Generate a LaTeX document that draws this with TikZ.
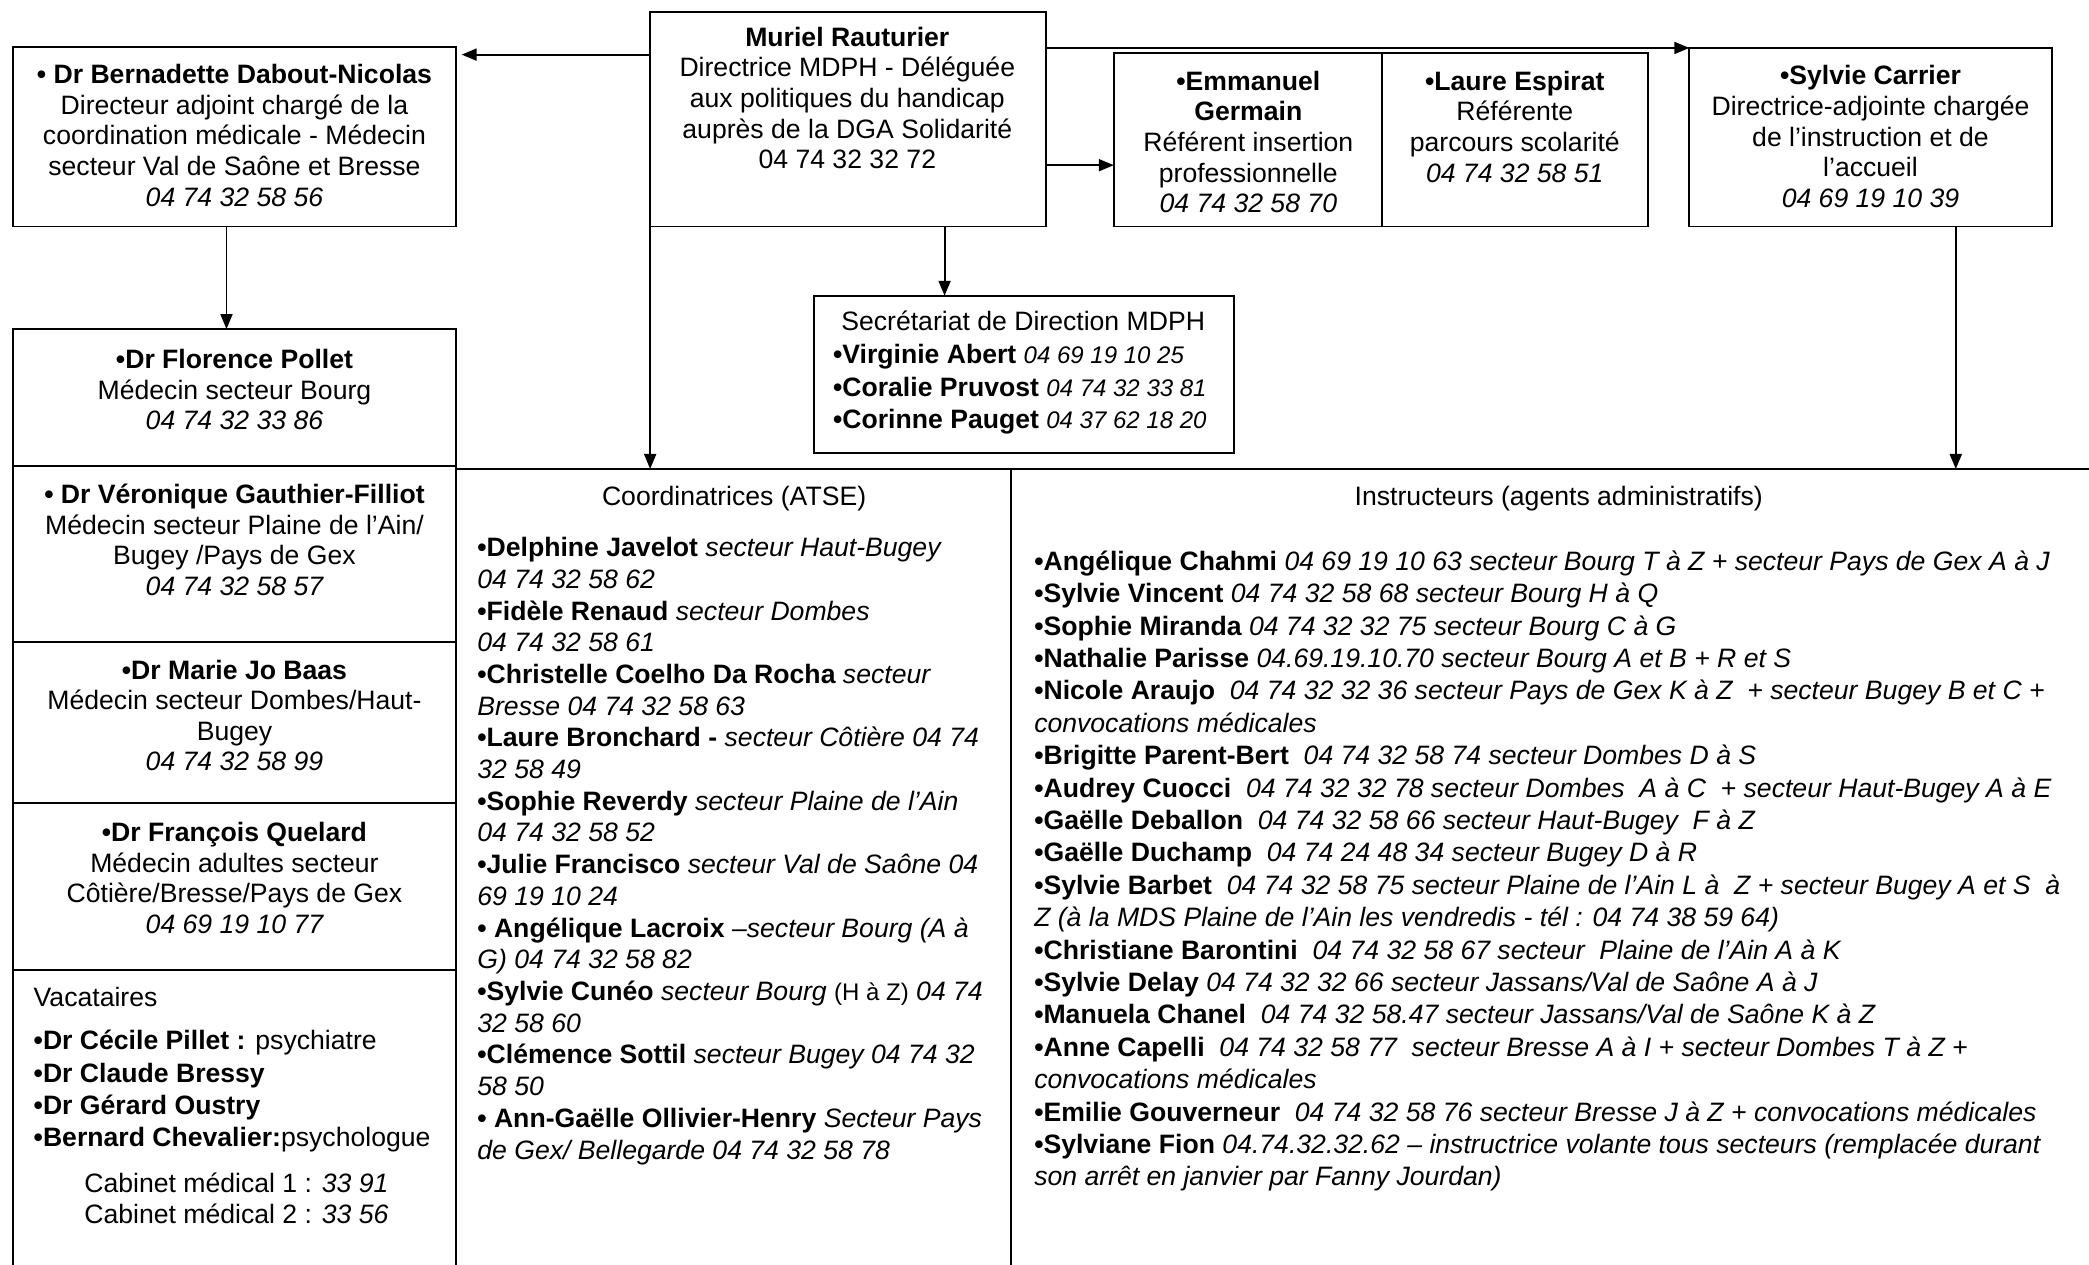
\documentclass[tikz,border=0pt]{standalone}
\usepackage{fontspec}
\setmainfont{Liberation Sans}
\usetikzlibrary{arrows.meta,calc}
\newcommand\fsA{\fontsize{13.3}{15.3}\selectfont}
\newcommand\fsCo{\fontsize{13.3}{15.85}\selectfont}
\newcommand\fsIn{\fontsize{13.3}{16.2}\selectfont}
\newcommand\fsSe{\fontsize{13.3}{16.3}\selectfont}
\newcommand\smph{\fontsize{12}{14}\selectfont}
\newcommand\mkbox[5]{\node[bx, anchor=north west, minimum width={(#4-#2)*0.666pt}, minimum height={(#5-#3)*0.666pt}] (#1) at (#2,#3) {};}
\tikzset{
 bx/.style={draw, line width=0.95pt, inner sep=0pt, outer sep=0pt},
 ctext/.style={inner sep=0pt, align=center, font=\fsA, anchor=north},
 ltext/.style={inner sep=0pt, align=left, font=\fsA, anchor=north west},
 arr/.style={line width=0.95pt, -{Triangle[length=7.5pt,width=6pt]}},
}
\begin{document}
\begin{tikzpicture}[x=0.666pt,y=-0.666pt]
\useasboundingbox (0,0) rectangle (1568,949);
\clip (0,0) rectangle (1568,949);
% boxes
\mkbox{dabout}{10}{35}{342}{170}
\mkbox{muriel}{488}{9}{785}{170}
\mkbox{emm}{836}{40}{1037}{170}
\mkbox{laure}{1037}{40}{1237}{170}
\mkbox{carrier}{1268}{36}{1540}{170}
\mkbox{secr}{611}{222}{926}{340}
\mkbox{pollet}{10}{247}{342}{350}
\mkbox{gauth}{10}{350}{342}{482}
\mkbox{baas}{10}{482}{342}{603}
\mkbox{quel}{10}{603}{342}{728}
\mkbox{vac}{10}{728}{342}{975}
\mkbox{coord}{342}{352}{759}{975}
\mkbox{instr}{759}{352}{1600}{975}
\draw[line width=1.3pt] (coord.north west) -- (instr.north east);
% texts
\node[ctext] (tdabout) at (176,48) {{\bfseries • Dr Bernadette Dabout-Nicolas}\\Directeur adjoint chargé de la\\coordination médicale - Médecin\\secteur Val de Saône et Bresse\\{\itshape 04 74 32 58 56}};
\node[ctext] (tmuriel) at (636,20) {{\bfseries Muriel Rauturier}\\Directrice MDPH - Déléguée\\aux politiques du handicap\\auprès de la DGA Solidarité\\04 74 32 32 72};
\node[ctext] (temm) at (937,53) {{\bfseries •Emmanuel}\\{\bfseries Germain}\\Référent insertion\\professionnelle\\{\itshape 04 74 32 58 70}};
\node[ctext] (tlaure) at (1137,53) {{\bfseries •Laure Espirat}\\Référente\\parcours scolarité\\{\itshape 04 74 32 58 51}};
\node[ctext] (tcarrier) at (1404,49) {{\bfseries •Sylvie Carrier}\\Directrice-adjointe chargée\\de l’instruction et de\\l’accueil\\{\itshape 04 69 19 10 39}};
\node[ctext] (tsecr) at (768,233) {Secrétariat de Direction MDPH};
\node[ltext, font=\fsSe] (tsecrl) at (625,258) {{\bfseries •Virginie Abert} {\smph\itshape 04 69 19 10 25}\\{\bfseries •Coralie Pruvost} {\smph\itshape 04 74 32 33 81}\\{\bfseries •Corinne Pauget} {\smph\itshape 04 37 62 18 20}};
\node[ctext] (tpollet) at (176,262) {{\bfseries •Dr Florence Pollet}\\Médecin secteur Bourg\\{\itshape 04 74 32 33 86}};
\node[ctext] (tgauth) at (176,363) {{\bfseries • Dr Véronique Gauthier-Filliot}\\Médecin secteur Plaine de l’Ain/\\Bugey /Pays de Gex\\{\itshape 04 74 32 58 57}};
\node[ctext] (tbaas) at (176,495) {{\bfseries •Dr Marie Jo Baas}\\Médecin secteur Dombes/Haut-\\Bugey\\{\itshape 04 74 32 58 99}};
\node[ctext] (tquel) at (176,617) {{\bfseries •Dr François Quelard}\\Médecin adultes secteur\\Côtière/Bresse/Pays de Gex\\{\itshape 04 69 19 10 77}};
\node[ltext] (tvac) at (25,741) {Vacataires};
\node[ltext, font=\fsIn] (tvacl) at (25,773) {{\bfseries •Dr Cécile Pillet :} psychiatre\\{\bfseries •Dr Claude Bressy}\\{\bfseries •Dr Gérard Oustry}\\{\bfseries •Bernard Chevalier:}psychologue};
\node[ltext] (tcab) at (63,880) {Cabinet médical 1 : {\itshape 33 91}\\Cabinet médical 2 : {\itshape 33 56}};
\node[ctext] (tcoord) at (551,365) {Coordinatrices (ATSE)};
\node[ltext, font=\fsCo] (tcoordl) at (358,403) {%
{\bfseries •Delphine Javelot} {\itshape secteur Haut-Bugey}\\
{\itshape 04 74 32 58 62}\\
{\bfseries •Fidèle Renaud} {\itshape secteur Dombes}\\
{\itshape 04 74 32 58 61}\\
{\bfseries •Christelle Coelho Da Rocha} {\itshape secteur}\\
{\itshape Bresse 04 74 32 58 63}\\
{\bfseries •Laure Bronchard -} {\itshape secteur Côtière 04 74}\\
{\itshape 32 58 49}\\
{\bfseries •Sophie Reverdy} {\itshape secteur Plaine de l’Ain}\\
{\itshape 04 74 32 58 52}\\
{\bfseries •Julie Francisco} {\itshape secteur Val de Saône 04}\\
{\itshape 69 19 10 24}\\
{\bfseries • Angélique Lacroix} {\itshape –secteur Bourg (A à}\\
{\itshape G) 04 74 32 58 82}\\
{\bfseries •Sylvie Cunéo} {\itshape secteur Bourg} {\smph(H à Z)} {\itshape 04 74}\\
{\itshape 32 58 60}\\
{\bfseries •Clémence Sottil} {\itshape secteur Bugey 04 74 32}\\
{\itshape 58 50}\\
{\bfseries • Ann-Gaëlle Ollivier-Henry} {\itshape Secteur Pays}\\
{\itshape de Gex/ Bellegarde 04 74 32 58 78}};
\node[ctext] (tinstr) at (1170,365) {Instructeurs (agents administratifs)};
\node[ltext, font=\fsIn] (tinstrl) at (776,413) {%
{\bfseries •Angélique Chahmi} {\itshape 04 69 19 10 63 secteur Bourg T à Z + secteur Pays de Gex A à J}\\
{\bfseries •Sylvie Vincent} {\itshape 04 74 32 58 68 secteur Bourg H à Q}\\
{\bfseries •Sophie Miranda} {\itshape 04 74 32 32 75 secteur Bourg C à G}\\
{\bfseries •Nathalie Parisse} {\itshape 04.69.19.10.70 secteur Bourg A et B + R et S}\\
{\bfseries •Nicole Araujo}\ \ {\itshape 04 74 32 32 36 secteur Pays de Gex K à Z\ \ + secteur Bugey B et C +}\\
{\itshape convocations médicales}\\
{\bfseries •Brigitte Parent-Bert}\ \ {\itshape 04 74 32 58 74 secteur Dombes D à S}\\
{\bfseries •Audrey Cuocci}\ \ {\itshape 04 74 32 32 78 secteur Dombes\ \ A à C\ \ + secteur Haut-Bugey A à E}\\
{\bfseries •Gaëlle Deballon}\ \ {\itshape 04 74 32 58 66 secteur Haut-Bugey\ \ F à Z}\\
{\bfseries •Gaëlle Duchamp}\ \ {\itshape 04 74 24 48 34 secteur Bugey D à R}\\
{\bfseries •Sylvie Barbet}\ \ {\itshape 04 74 32 58 75 secteur Plaine de l’Ain L à\ \ Z + secteur Bugey A et S\ \ à}\\
{\itshape Z (à la MDS Plaine de l’Ain les vendredis - tél : 04 74 38 59 64)}\\
{\bfseries •Christiane Barontini}\ \ {\itshape 04 74 32 58 67 secteur\ \ Plaine de l’Ain A à K}\\
{\bfseries •Sylvie Delay} {\itshape 04 74 32 32 66 secteur Jassans/Val de Saône A à J}\\
{\bfseries •Manuela Chanel}\ \ {\itshape 04 74 32 58.47 secteur Jassans/Val de Saône K à Z}\\
{\bfseries •Anne Capelli}\ \ {\itshape 04 74 32 58 77\ \ secteur Bresse A à I + secteur Dombes T à Z +}\\
{\itshape convocations médicales}\\
{\bfseries •Emilie Gouverneur}\ \ {\itshape 04 74 32 58 76 secteur Bresse J à Z + convocations médicales}\\
{\bfseries •Sylviane Fion} {\itshape 04.74.32.32.62 – instructrice volante tous secteurs (remplacée durant}\\
{\itshape son arrêt en janvier par Fanny Jourdan)}};
% connectors
\coordinate (a1) at ($(muriel.north west)+(0,32)$);
\draw[arr, shorten >=3pt] (a1) -- (a1 -| dabout.east);
\draw[arr] (muriel.east |- carrier.north) -- (carrier.north west);
\coordinate (a3) at ($(muriel.north east)+(0,115)$);
\draw[arr] (a3) -- (a3 -| emm.west);
\coordinate (a4) at ($(muriel.south west)+(221,0)$);
\draw[arr] (a4) -- (a4 |- secr.north);
\draw[arr] (muriel.south west) -- (muriel.south west |- coord.north);
\coordinate (a6) at ($(dabout.south west)+(160,0)$);
\draw[arr] (a6) -- (a6 |- pollet.north);
\coordinate (a7) at ($(carrier.south west)+(200,0)$);
\draw[arr] (a7) -- (a7 |- instr.north);
\end{tikzpicture}
\end{document}
